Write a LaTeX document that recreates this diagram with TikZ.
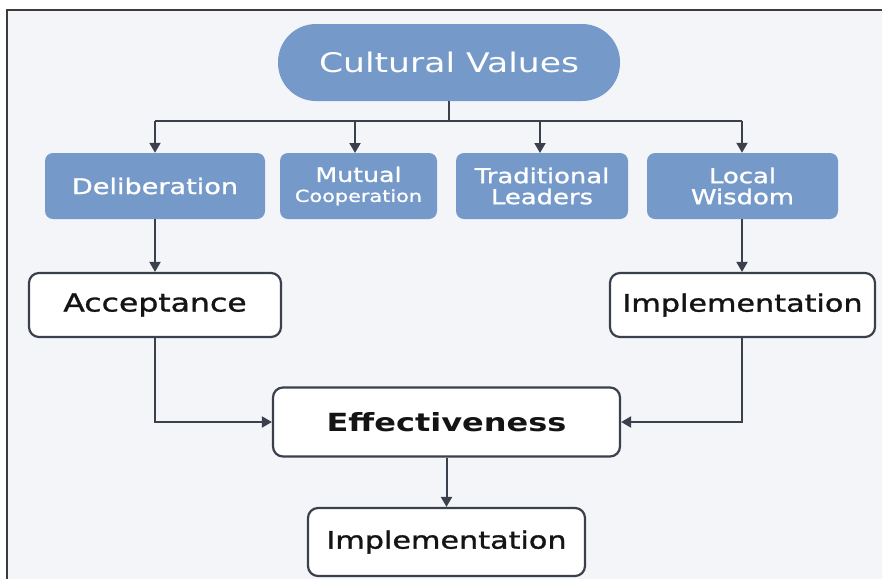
\documentclass[tikz,border=0pt]{standalone}
\usepackage{fontspec}
\usetikzlibrary{arrows.meta}
\newfontfamily\wide[FakeStretch=1.28]{DejaVu Sans}
\newfontfamily\widemed[FakeStretch=1.26, FakeBold=1.2]{DejaVu Sans}
\definecolor{pagebg}{HTML}{F3F5F8}
\definecolor{boxblue}{HTML}{759ACA}
\definecolor{linecol}{HTML}{3A414D}
\definecolor{framecol}{HTML}{3C3C3C}
\definecolor{inkcol}{HTML}{141414}
\tikzset{
  topnode/.style={fill=boxblue, draw=none, rounded corners=38pt,
    minimum width=342pt, minimum height=77pt, inner sep=0pt,
    text=white, font=\wide\fontsize{27}{29}\selectfont},
  bluebox/.style={fill=boxblue, draw=none, rounded corners=8pt,
    minimum height=66pt, inner sep=0pt, align=center,
    text=white, font=\widemed\fontsize{20.5}{21}\selectfont},
  whitebox/.style={fill=white, draw=linecol, line width=2.2pt, rounded corners=10pt,
    minimum height=64pt, inner sep=0pt, text=inkcol,
    font=\widemed\fontsize{24}{26}\selectfont},
  link/.style={draw=linecol, line width=2pt},
  arrowlink/.style={link, -{Triangle[length=10pt,width=11pt]}},
}
\begin{document}
\begin{tikzpicture}[x=1pt, y=-1pt]
  % canvas and frame
  \useasboundingbox (0,0) rectangle (882,579);
  \fill[white] (0,0) rectangle (882,579);
  \fill[pagebg] (7,10) rectangle (882,579);
  \draw[framecol, line width=2pt] (7,579) -- (7,10) -- (882,10);

  % root
  \node[topnode] (cv) at (449,62.5) {Cultural Values};

  % four value boxes
  \node[bluebox, minimum width=220pt, font=\widemed\fontsize{21.5}{22}\selectfont] (delib) at (155,186) {Deliberation};
  \node[bluebox, minimum width=157pt] (mutual) at (358.5,186)
    {{\fontsize{20}{21}\selectfont Mutual}\\[-1pt]{\fontsize{16.5}{21}\selectfont Cooperation}};
  \node[bluebox, minimum width=172pt] (trad) at (542,186) {Traditional\\Leaders};
  \node[bluebox, minimum width=191pt] (local) at (742.5,186) {Local\\Wisdom};

  % outcome boxes
  \node[whitebox, minimum width=252pt, font=\widemed\fontsize{25}{27}\selectfont] (accept) at (155,305) {Acceptance};
  \node[whitebox, minimum width=265pt] (implR) at (742.5,305) {Implementation};
  \node[whitebox, minimum width=347pt, minimum height=69pt,
        font=\wide\bfseries\fontsize{25}{28}\selectfont] (eff) at (446.5,422) {Effectiveness};
  \node[whitebox, minimum width=277pt, minimum height=68pt] (implB) at (446.5,542) {Implementation};

  % distribution bus under the root
  \coordinate (busL) at (155,121);
  \coordinate (busR) at (742,121);
  \draw[link] (cv.south) -- (cv.south |- busL);
  \draw[link] (busL) -- (busR);
  \draw[arrowlink] (delib.north |- busL) -- (delib.north);
  \draw[arrowlink] (355,121) -- (355,153);
  \draw[arrowlink] (540,121) -- (540,153);
  \draw[arrowlink] (busR) -- (busR |- local.north);

  % flow to the outcomes
  \draw[arrowlink] (delib.south) -- (accept.north);
  \draw[arrowlink] (busR |- local.south) -- (busR |- implR.north);
  \draw[arrowlink] (accept.south) |- (eff.west);
  \draw[arrowlink] (busR |- implR.south) |- (eff.east);
  \draw[arrowlink] (eff.south) -- (implB.north);
\end{tikzpicture}
\end{document}
